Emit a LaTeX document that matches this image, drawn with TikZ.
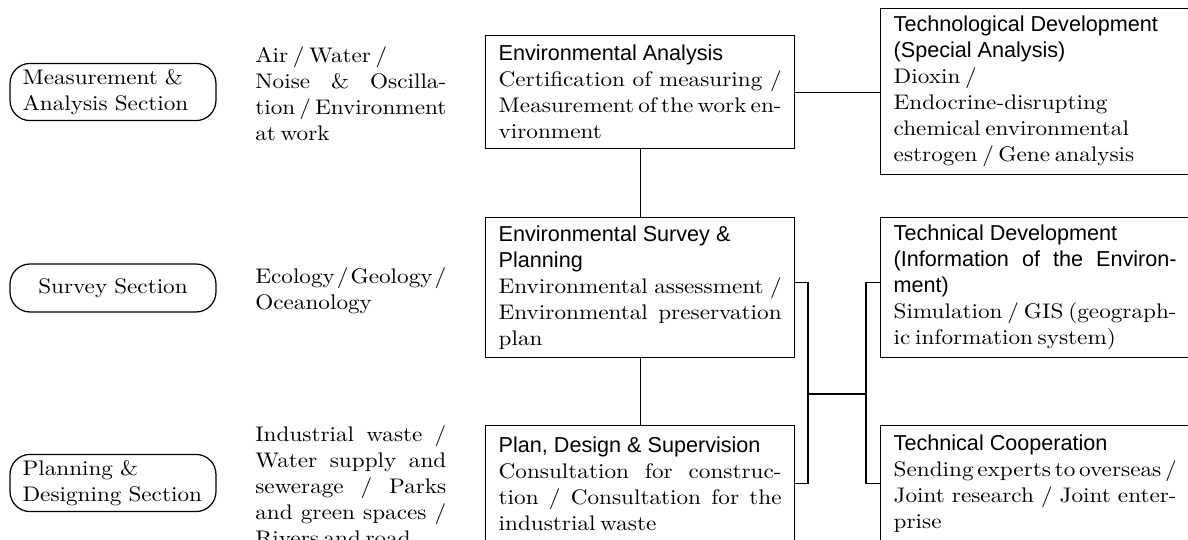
\documentclass[tikz,border=0pt]{standalone}
\usepackage{fontspec}
\setmainfont{lmroman10-regular.otf}[FakeStretch=1.1, WordSpace=0.6]
\newfontfamily\headfont{Liberation Sans}
\usetikzlibrary{positioning, calc}

\begin{document}
\begin{tikzpicture}[
    % Global: one unit is one pixel of the page
    x=0.02cm, y=-0.02cm,
    font=\fontsize{12}{14.8}\selectfont,
    % Styles for different component types
    section/.style={
        rectangle,
        rounded corners=0.4cm,
        draw=black,
        line width=0.7pt,
        minimum width=4.12cm,
        inner xsep=0.25cm,
        text width=3.62cm,
        align=left
    },
    field/.style={
        anchor=north west,
        inner sep=0pt,
        text width=3.82cm,
        align=justify
    },
    task/.style={
        rectangle,
        draw=black,
        fill=white,
        line width=0.8pt,
        anchor=north west,
        minimum width=6.18cm,
        text width=5.66cm,
        inner xsep=0.26cm,
        align=justify
    },
    % Connector line style
    conn/.style={
        draw=black,
        line width=0.7pt,
        line cap=butt,
        line join=miter
    }
]

    \useasboundingbox (0,0) rectangle (1188,540);
    \clip (0,0) rectangle (1188,540);

    % --- Sections ---
    \node[section] (meas) at (113,92) {Measurement \&\\Analysis Section};
    \node[section, align=center, minimum height=0.96cm] (surv) at (113,288) {Survey Section};
    \node[section] (plan) at (113,483) {Planning \&\\Designing Section};

    % --- Fields ---
    \node[field] (fld1) at (255,46) {Air / Water /\\Noise \& Oscilla-\linebreak {\spaceskip=1.5pt plus 2pt tion / Environment}\linebreak at work};
    \node[field] (fld2) at (255,267) {{\spaceskip=0.8pt plus 1pt minus 0.5pt Ecology / Geology /}\linebreak Oceanology};
    \node[field] (fld3) at (255,425) {Industrial waste /\linebreak Water supply and\linebreak sewerage / Parks\linebreak and green spaces /\linebreak Rivers and road};

    % --- Main column ---
    \node[task, minimum height=2.26cm] (ana) at (485,35)
        {{\headfont\fontsize{12.3}{14.8}\selectfont Environmental Analysis}\\Certification of measuring /\linebreak {\spaceskip=1.2pt plus 2pt Measurement of the work en-}\linebreak vironment};
    \node[task, minimum height=2.80cm] (sur) at (485,217)
        {{\headfont\fontsize{12.3}{14.8}\selectfont Environmental Survey \&\\Planning}\\Environmental assessment /\linebreak Environmental preservation\linebreak plan};
    \node[task, minimum height=2.32cm] (pds) at (485,425)
        {{\headfont\fontsize{12.3}{14.8}\selectfont Plan, Design \& Supervision}\\Consultation for construc-\linebreak tion / Consultation for the\linebreak industrial waste};

    % --- Technical column ---
    \node[task, minimum height=3.32cm] (spec) at (880,8)
        {{\headfont\fontsize{12.3}{14.8}\selectfont Technological Development\\(Special Analysis)}\\Dioxin /\\Endocrine-disrupting\\chemical environmental\\estrogen / Gene analysis};
    \node[task, minimum height=2.80cm] (info) at (880,217)
        {{\headfont\fontsize{12.3}{14.8}\selectfont Technical Development\\(Information of the Environ-\linebreak ment)}\\Simulation / GIS (geograph-\linebreak ic information system)};
    \node[task, minimum height=2.32cm] (coop) at (880,425)
        {{\headfont\fontsize{12.3}{14.8}\selectfont Technical Cooperation}\\{\spaceskip=1.5pt plus 2pt Sending experts to overseas /}\linebreak Joint research / Joint enter-\linebreak prise};

    % --- Edges ---
    \coordinate (busl) at (808,394);
    \coordinate (busr) at (866,394);

    % Analysis -> Special
    \draw[conn] (ana.east) -- (ana.east -| spec.west);

    % Main column
    \draw[conn] (ana.south) -- (sur.north);
    \draw[conn] (sur.south) -- (pds.north);

    % Bus between columns
    \draw[conn] ([yshift=0.1cm]sur.east) -| (busl) |- (pds.east);
    \draw[conn] (busl) -- (busr);
    \draw[conn] ([yshift=0.1cm]info.west) -| (busr) |- (coop.west);

\end{tikzpicture}
\end{document}
